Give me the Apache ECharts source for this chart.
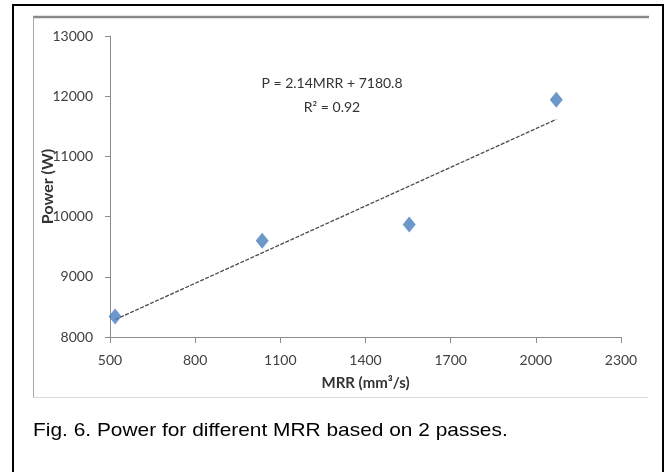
<!DOCTYPE html>
<html>
<head>
<meta charset="utf-8">
<script src="https://cdn.jsdelivr.net/npm/echarts@6/dist/echarts.min.js"></script>
<style>
  html, body { margin: 0; padding: 0; background: #ffffff; }
  #chart { width: 665px; height: 472px; }
</style>
</head>
<body>
<div id="chart"></div>
<script>
// Measured power against material removal rate (2 passes)
const mrr = [518, 1036, 1554, 2072];
const power = [8340, 9600, 9870, 11940];

// Linear fit reported on the chart
const slope = 2.14;
const intercept = 7180.8;
const r2 = 0.92;

const xTicks = [500, 800, 1100, 1400, 1700, 2000, 2300];
const yTicks = [8000, 9000, 10000, 11000, 12000, 13000];

const points = mrr.map((x, i) => [x, power[i]]);
const fitX = [mrr[0], mrr[mrr.length - 1]];
const fitLine = fitX.map(x => [x, slope * x + intercept]);

const chartFont = 'Lato, "Open Sans", sans-serif';
const axisGray = '#8c8c8c';

const chart = echarts.init(document.getElementById('chart'), null, { renderer: 'canvas' });

chart.setOption({
  animation: false,
  backgroundColor: '#ffffff',
  grid: { left: 110, right: 44, top: 36, bottom: 135 },
  xAxis: {
    type: 'value',
    min: xTicks[0],
    max: xTicks[xTicks.length - 1],
    interval: 300,
    name: 'MRR (mm³/s)',
    nameLocation: 'middle',
    nameGap: 39,
    nameMoveOverlap: false,
    nameTextStyle: { fontFamily: chartFont, fontWeight: 'bold', fontSize: 15, color: '#333333' },
    axisLine: { show: true, lineStyle: { color: axisGray, width: 1 } },
    axisTick: { show: true, length: 6, lineStyle: { color: axisGray } },
    axisLabel: {
      margin: 16, fontFamily: chartFont, fontSize: 14, color: '#404040',
      formatter: v => String(v)
    },
    splitLine: { show: false }
  },
  yAxis: {
    type: 'value',
    min: yTicks[0],
    max: yTicks[yTicks.length - 1],
    interval: 1000,
    name: 'Power (W)',
    nameLocation: 'middle',
    nameGap: 54,
    nameMoveOverlap: false,
    nameTextStyle: { fontFamily: chartFont, fontWeight: 'bold', fontSize: 16, color: '#333333' },
    axisLine: { show: true, lineStyle: { color: axisGray, width: 1 } },
    axisTick: { show: true, length: 5, lineStyle: { color: axisGray } },
    axisLabel: {
      margin: 17, fontFamily: chartFont, fontSize: 14, color: '#404040',
      formatter: v => String(v)
    },
    splitLine: { show: false }
  },
  series: [
    {
      name: 'Trend',
      type: 'line',
      data: fitLine,
      symbol: 'none',
      lineStyle: { color: '#4a4a4a', width: 1.3, type: [4, 1.5] },
      z: 2
    },
    {
      name: 'Power',
      type: 'scatter',
      data: points,
      symbol: 'diamond',
      symbolSize: [13, 16],
      itemStyle: { color: '#4a7ebb' },
      z: 3
    }
  ],
  graphic: [
    // outer page border (open at the bottom)
    { type: 'line', shape: { x1: 13, y1: 4, x2: 13, y2: 472 }, style: { stroke: '#000000', lineWidth: 2 } },
    { type: 'line', shape: { x1: 12, y1: 5, x2: 664, y2: 5 }, style: { stroke: '#000000', lineWidth: 2 } },
    { type: 'line', shape: { x1: 663, y1: 4, x2: 663, y2: 472 }, style: { stroke: '#000000', lineWidth: 2 } },
    // chart area frame
    { type: 'line', shape: { x1: 33, y1: 17, x2: 649, y2: 17 }, style: { stroke: '#8a8a8a', lineWidth: 2.5 } },
    { type: 'line', shape: { x1: 33.5, y1: 17, x2: 33.5, y2: 397 }, style: { stroke: '#a6a6a6', lineWidth: 1 } },
    { type: 'line', shape: { x1: 33, y1: 397.5, x2: 648, y2: 397.5 }, style: { stroke: '#d9d9d9', lineWidth: 1 } },
    // regression equation
    {
      type: 'text',
      x: 332, y: 83,
      style: {
        text: 'P = ' + slope.toFixed(2) + 'MRR + ' + intercept.toFixed(1),
        fontFamily: chartFont, fontSize: 14, fill: '#333333',
        textAlign: 'center', textVerticalAlign: 'middle'
      }
    },
    {
      type: 'text',
      x: 332, y: 107,
      style: {
        text: 'R² = ' + r2.toFixed(2),
        fontFamily: chartFont, fontSize: 14, fill: '#333333',
        textAlign: 'center', textVerticalAlign: 'middle'
      }
    },
    // figure caption
    {
      type: 'text',
      x: 33, y: 431,
      scaleX: 1.1,
      style: {
        text: 'Fig. 6. Power for different MRR based on 2 passes.',
        fontFamily: '"Liberation Sans", Arial, sans-serif', fontSize: 19, fill: '#000000',
        textAlign: 'left', textVerticalAlign: 'middle'
      }
    }
  ]
});
</script>
</body>
</html>
